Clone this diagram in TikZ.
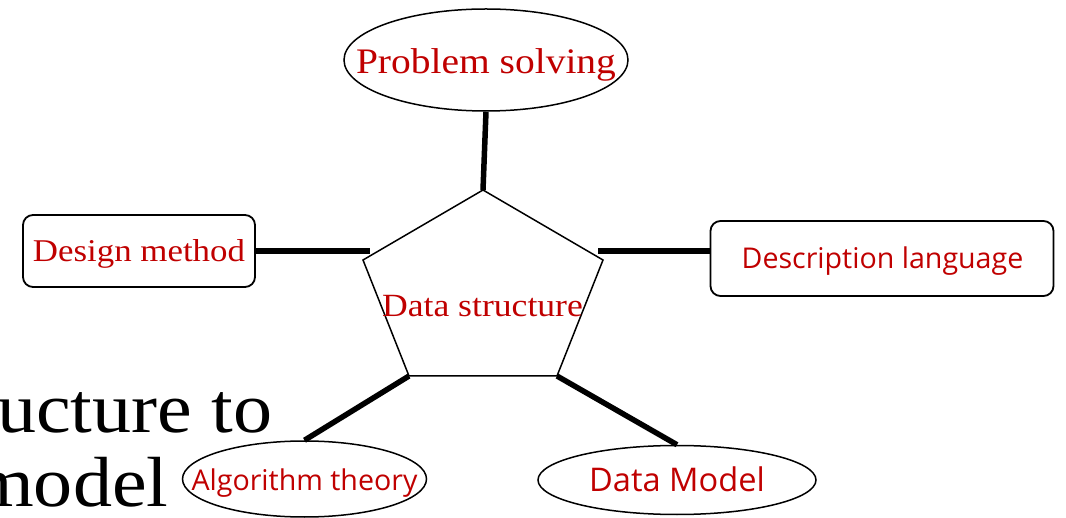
\documentclass[tikz,border=0pt]{standalone}
\usepackage{fontspec}
\setmainfont{Liberation Serif}
\newfontfamily\serifwide[FakeStretch=1.1]{Liberation Serif}
\newfontfamily\sansui{Open Sans}
\usetikzlibrary{shapes.geometric}
\definecolor{labelred}{HTML}{C00000}

\tikzset{
  outline/.style={draw=black, line width=1.5pt},
  oval/.style={outline, ellipse, inner sep=0pt},
  roundbox/.style={draw=black, line width=1.8pt, rectangle, rounded corners=10pt, inner sep=0pt},
  serifred/.style={text=labelred, inner sep=0pt, anchor=base, font=\serifwide},
  sansred/.style={text=labelred, inner sep=0pt, anchor=base, font=\sansui},
  link/.style={draw=black, line width=5.5pt},
  bigtext/.style={inner sep=0pt, anchor=base west, text=black,
    font=\serifwide\fontsize{71}{80}\selectfont}
}

\begin{document}
\begin{tikzpicture}[x=1pt, y=-1pt]
  \useasboundingbox (0,0) rectangle (1066,518);
  \clip (0,0) rectangle (1066,518);
  \fill[white] (0,0) rectangle (1066,518);

  % large title fragment at the left edge
  \node[bigtext] (titleA) at (-3,433) {ucture to};
  \node[bigtext] (titleB) at (-27,507) {model};

  % central pentagon
  \coordinate (pT)  at (483,190);
  \coordinate (pUL) at (363,260);
  \coordinate (pUR) at (603,260);
  \coordinate (pLL) at (409,376);
  \coordinate (pLR) at (557,376);
  \draw[outline, line join=miter] (pT) -- (pUR) -- (pLR) -- (pLL) -- (pUL) -- cycle;
  \node[serifred, font=\serifwide\fontsize{32.4}{38}\selectfont] (dsT) at (482.5,317) {Data structure};

  % connector ends beside the pentagon
  \coordinate (eL) at (370,251);
  \coordinate (eR) at (598,251);

  % surrounding nodes
  \node[oval, minimum width=284pt, minimum height=102pt] (ps) at (486,60) {};
  \node[serifred, font=\serifwide\fontsize{35.9}{42}\selectfont] (psT) at (486,74) {Problem solving};

  \node[roundbox, minimum width=232pt, minimum height=72pt] (dm) at (139,251) {};
  \node[serifred, font=\serifwide\fontsize{31.7}{38}\selectfont] (dmT) at (139,262) {Design method};

  \node[roundbox, minimum width=343pt, minimum height=75pt] (dl) at (882,258.5) {};
  \node[sansred, font=\sansui\fontsize{28.6}{34}\selectfont] (dlT) at (882.5,269) {Description language};

  \node[oval, minimum width=244pt, minimum height=76pt] (at) at (304.5,479) {};
  \node[sansred, font=\sansui\fontsize{28.6}{34}\selectfont] (atT) at (304.5,490) {Algorithm theory};

  \node[oval, minimum width=278pt, minimum height=69pt] (dmo) at (677,480) {};
  \node[sansred, font=\sansui\fontsize{32.6}{38}\selectfont] (dmoT) at (677,491) {Data Model};

  % thick connectors
  \draw[link] (ps.south) -- (pT);
  \draw[link] (dm.east |- eL) -- (eL);
  \draw[link] (eR) -- (dl.west |- eR);
  \draw[link] (pLL) -- (at.north);
  \draw[link] (pLR) -- (dmo.north);
\end{tikzpicture}
\end{document}
